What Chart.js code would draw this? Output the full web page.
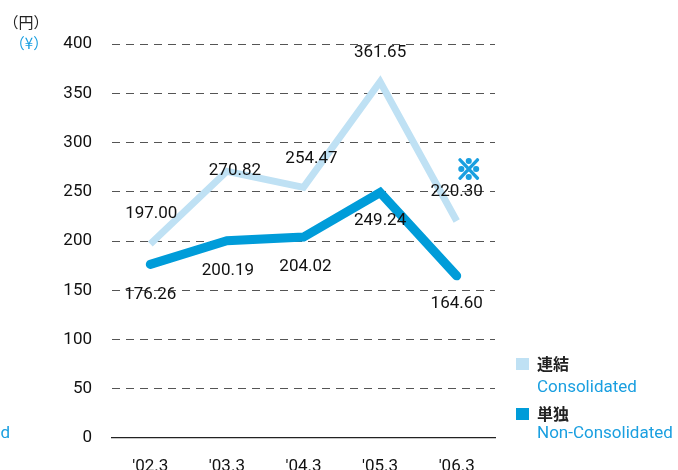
<!DOCTYPE html>
<html>
<head>
<meta charset="utf-8">
<script src="https://cdn.jsdelivr.net/npm/chart.js@4/dist/chart.umd.min.js"></script>
<style>
  html, body { margin: 0; padding: 0; background: #ffffff; }
  #wrap { width: 678px; height: 470px; position: relative; }
</style>
</head>
<body>
<div id="wrap"><canvas id="c" width="678" height="470"></canvas></div>
<script>
// Fiscal year-ends on the horizontal axis
const categories = ["'02.3", "'03.3", "'04.3", "'05.3", "'06.3"];
// Per-share values in yen
const consolidated = [197.00, 270.82, 254.47, 361.65, 220.30];
const nonConsolidated = [176.26, 200.19, 204.02, 249.24, 164.60];
// Vertical axis ticks
const yTicks = [0, 50, 100, 150, 200, 250, 300, 350, 400];

const LIGHT = '#bfe1f4';
const DARK = '#009cd9';
const BLUE_TEXT = '#1a9fe0';
const NUM_FONT = '17px Roboto, "Liberation Sans", sans-serif';
const CJK_FONT = '"Noto Sans CJK JP", sans-serif';

// Label offsets (px) from each point
const lightOffsets = [[1, -30], [8, 0], [8, -29], [0, -29], [0, -29]];
const darkOffsets = [[0, 30], [1, 30], [2, 30], [0, 28], [0, 28]];

const decorPlugin = {
  id: 'decor',
  afterDatasetsDraw(chart) {
    const ctx = chart.ctx;
    ctx.save();
    ctx.font = NUM_FONT;
    ctx.fillStyle = '#111';
    ctx.textAlign = 'center';
    ctx.textBaseline = 'middle';
    const drawLabels = (idx, vals, offs) => {
      const meta = chart.getDatasetMeta(idx);
      meta.data.forEach((pt, i) => {
        ctx.fillText(vals[i].toFixed(2), pt.x + offs[i][0], pt.y + offs[i][1]);
      });
    };
    drawLabels(0, consolidated, lightOffsets);
    drawLabels(1, nonConsolidated, darkOffsets);

    // heavy note mark beside the last consolidated value
    const last = chart.getDatasetMeta(0).data[4];
    ctx.fillStyle = BLUE_TEXT;
    ctx.strokeStyle = BLUE_TEXT;
    ctx.lineWidth = 2.2;
    ctx.lineJoin = 'round';
    ctx.font = 'bold 26px ' + CJK_FONT;
    ctx.fillText('※', last.x + 12, last.y - 52);
    ctx.strokeText('※', last.x + 12, last.y - 52);

    // unit captions
    ctx.font = '15px ' + CJK_FONT;
    ctx.fillStyle = '#222';
    ctx.fillText('（円）', 26, 22);
    ctx.fillStyle = BLUE_TEXT;
    ctx.fillText('（¥）', 29, 43);

    // legend
    ctx.textAlign = 'left';
    ctx.fillStyle = LIGHT;
    ctx.fillRect(516, 358, 13, 12);
    ctx.fillStyle = DARK;
    ctx.fillRect(516, 408, 13, 12);
    ctx.fillStyle = '#222';
    ctx.font = 'bold 16px ' + CJK_FONT;
    ctx.fillText('連結', 537, 364);
    ctx.fillText('単独', 537, 414);
    ctx.fillStyle = BLUE_TEXT;
    ctx.font = '17px Roboto, "Liberation Sans", sans-serif';
    ctx.fillText('Consolidated', 537, 388);
    ctx.fillText('Non-Consolidated', 537, 434);
    ctx.textAlign = 'right';
    ctx.fillText('Non-Consolidated', 10, 434);
    ctx.restore();
  }
};

new Chart(document.getElementById('c'), {
  type: 'line',
  data: {
    labels: categories,
    datasets: [
      {
        label: '連結 Consolidated',
        data: consolidated,
        borderColor: LIGHT,
        borderWidth: 7,
        borderCapStyle: 'butt',
        borderJoinStyle: 'miter',
        pointRadius: 0,
        tension: 0
      },
      {
        label: '単独 Non-Consolidated',
        data: nonConsolidated,
        borderColor: DARK,
        borderWidth: 9,
        borderCapStyle: 'round',
        borderJoinStyle: 'miter',
        pointRadius: 0,
        tension: 0
      }
    ]
  },
  options: {
    responsive: false,
    devicePixelRatio: 1,
    animation: false,
    layout: { padding: { top: 44, right: 183, left: 0, bottom: 0 } },
    plugins: { legend: { display: false }, tooltip: { enabled: false } },
    scales: {
      x: {
        type: 'category',
        offset: true,
        grid: { display: false, drawTicks: false },
        border: { display: true, color: '#222', width: 1.2 },
        ticks: { color: '#111', font: { family: 'Roboto', size: 17 }, padding: 19, maxRotation: 0 },
        afterFit(scale) { scale.height = 32; }
      },
      y: {
        min: 0,
        max: 400,
        afterBuildTicks(scale) { scale.ticks = yTicks.map(v => ({ value: v })); },
        grid: {
          drawTicks: false,
          color: ctx => ctx.tick && ctx.tick.value === 0 ? 'rgba(0,0,0,0)' : '#555',
          lineWidth: 1
        },
        border: { display: false, dash: [8, 6] },
        ticks: { color: '#111', font: { family: 'Roboto', size: 17 }, padding: 20 },
        afterFit(scale) { scale.width = 112; }
      }
    }
  },
  plugins: [decorPlugin]
});
</script>
</body>
</html>
